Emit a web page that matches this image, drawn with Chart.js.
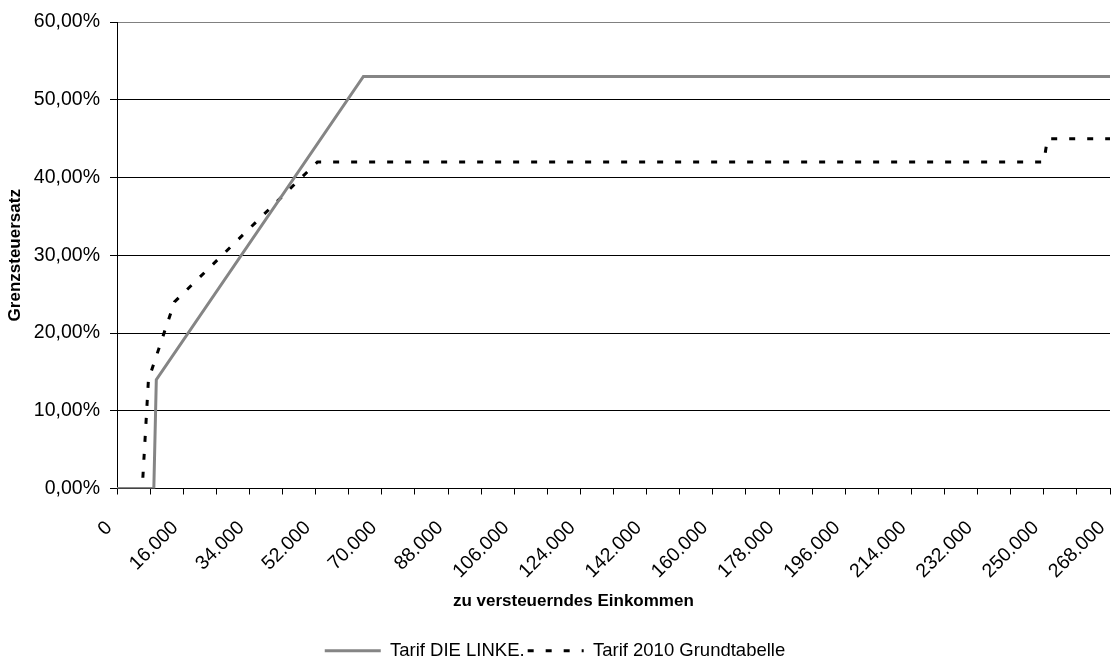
<!DOCTYPE html>
<html>
<head>
<meta charset="utf-8">
<script src="https://cdn.jsdelivr.net/npm/chart.js@4.4.0/dist/chart.umd.min.js"></script>
<style>
  html, body { margin: 0; padding: 0; background: #fff; }
</style>
</head>
<body>
<canvas id="chart" width="1115" height="659"></canvas>
<script>
// x axis: taxable income in EUR, labels are evenly spaced in the original chart
const incomeLabels = [0, 16000, 34000, 52000, 70000, 88000, 106000, 124000, 142000,
    160000, 178000, 196000, 214000, 232000, 250000, 268000];
const incomeLabelText = ['0', '16.000', '34.000', '52.000', '70.000', '88.000', '106.000', '124.000',
    '142.000', '160.000', '178.000', '196.000', '214.000', '232.000', '250.000', '268.000'];
// tick marks (one between each pair of labels)
const incomeTicks = [0, 8000, 16000, 25000, 34000, 43000, 52000, 61000, 70000, 79000, 88000,
    97000, 106000, 115000, 124000, 133000, 142000, 151000, 160000, 169000, 178000, 187000,
    196000, 205000, 214000, 223000, 232000, 241000, 250000, 259000, 268000];

// Tarif DIE LINKE. (marginal rate in %)
const linkeIncome = [0, 8900, 9500, 65000, 268000];
const linkeRate = [0, 0, 14, 53, 53];

// Tarif 2010 Grundtabelle (marginal rate in %)
const tarifIncome = [0, 6100, 7600, 13900, 52500, 250000, 251000, 268000];
const tarifRate = [0, 0, 14, 24, 42, 42, 45, 45];

// y axis
const rateMin = 0;
const rateMax = 60;
const rateStep = 10;

const fontFamily = "'Liberation Sans', Arial, sans-serif";

// Category-like income axis: labels sit at equal distances, values in between are interpolated
class IncomeScale extends Chart.LinearScale {
    buildTicks() {
        return incomeTicks.map(v => ({ value: v }));
    }
    getPixelForValue(value) {
        const n = incomeLabels.length - 1;
        let i = 0;
        while (i < n - 1 && value > incomeLabels[i + 1]) i++;
        const pos = i + (value - incomeLabels[i]) / (incomeLabels[i + 1] - incomeLabels[i]);
        return this.left + (this.right - this.left) * pos / n;
    }
    getValueForPixel(pixel) {
        const n = incomeLabels.length - 1;
        const pos = (pixel - this.left) / (this.right - this.left) * n;
        const i = Math.max(0, Math.min(n - 1, Math.floor(pos)));
        return incomeLabels[i] + (pos - i) * (incomeLabels[i + 1] - incomeLabels[i]);
    }
}
IncomeScale.id = 'income';
IncomeScale.defaults = Chart.LinearScale.defaults;
Chart.register(IncomeScale);

function toPoints(xs, ys) {
    return xs.map((x, i) => ({ x: x, y: ys[i] }));
}

// legend samples: draw as lines, keep the dash pattern of the dataset
function legendLabels(chart) {
    const items = Chart.defaults.plugins.legend.labels.generateLabels(chart);
    items.forEach(item => {
        const ds = chart.data.datasets[item.datasetIndex];
        item.lineDash = ds.borderDash || [];
        item.lineWidth = ds.borderWidth;
        item.strokeStyle = ds.borderColor;
    });
    return items;
}

let ctx = document.getElementById('chart').getContext('2d');
new Chart(ctx, {
    type: 'line',
    data: {
        datasets: [{
            label: 'Tarif DIE LINKE.',
            data: toPoints(linkeIncome, linkeRate),
            borderColor: '#858585',
            backgroundColor: '#858585',
            borderWidth: 3,
            pointRadius: 0,
            pointHoverRadius: 0,
            pointStyle: 'line',
            tension: 0
        }, {
            label: 'Tarif 2010 Grundtabelle',
            data: toPoints(tarifIncome, tarifRate),
            borderColor: '#000000',
            backgroundColor: '#000000',
            borderWidth: 3,
            borderDash: [6, 12],
            pointRadius: 0,
            pointHoverRadius: 0,
            pointStyle: 'line',
            tension: 0
        }]
    },
    options: {
        responsive: false,
        animation: false,
        devicePixelRatio: 1,
        layout: { padding: { top: 22, right: 5, bottom: -11, left: 0 } },
        scales: {
            x: {
                type: 'income',
                min: incomeLabels[0],
                max: incomeLabels[incomeLabels.length - 1],
                afterFit: s => { s.height = 150; s.paddingRight = 0; },
                ticks: {
                    autoSkip: false,
                    minRotation: 45,
                    maxRotation: 45,
                    padding: 22,
                    labelOffset: -8,
                    color: '#000',
                    font: { family: fontFamily, size: 19.5 },
                    callback: value => {
                        const i = incomeLabels.indexOf(value);
                        return i >= 0 ? incomeLabelText[i] : '';
                    }
                },
                grid: { drawOnChartArea: false, tickLength: 6, tickColor: '#000', color: '#000' },
                border: { color: '#000', width: 1 },
                title: {
                    display: true,
                    text: 'zu versteuerndes Einkommen' + '\u00a0'.repeat(17),
                    color: '#000',
                    font: { family: fontFamily, size: 17, weight: 'bold' },
                    padding: { top: 0, bottom: 27 }
                }
            },
            y: {
                min: rateMin,
                max: rateMax,
                afterFit: s => { s.width = 117; },
                ticks: {
                    stepSize: rateStep,
                    padding: 10,
                    color: '#000',
                    font: { family: fontFamily, size: 19.5 },
                    callback: v => v.toFixed(2).replace('.', ',') + '%'
                },
                grid: {
                    color: c => (c.tick && c.tick.value === rateMax) ? '#808080' : '#000',
                    tickColor: '#000',
                    tickLength: 7,
                    lineWidth: 1
                },
                border: { color: '#000', width: 1 },
                title: {
                    display: true,
                    text: 'Grenzsteuersatz',
                    color: '#000',
                    font: { family: fontFamily, size: 17, weight: 'bold' },
                    padding: { top: 5, bottom: 0 }
                }
            }
        },
        plugins: {
            legend: {
                position: 'bottom',
                labels: {
                    usePointStyle: true,
                    pointStyleWidth: 56,
                    padding: 3,
                    color: '#000',
                    font: { family: fontFamily, size: 18.5 },
                    generateLabels: legendLabels
                }
            },
            tooltip: { enabled: false }
        }
    }
});
</script>
</body>
</html>
